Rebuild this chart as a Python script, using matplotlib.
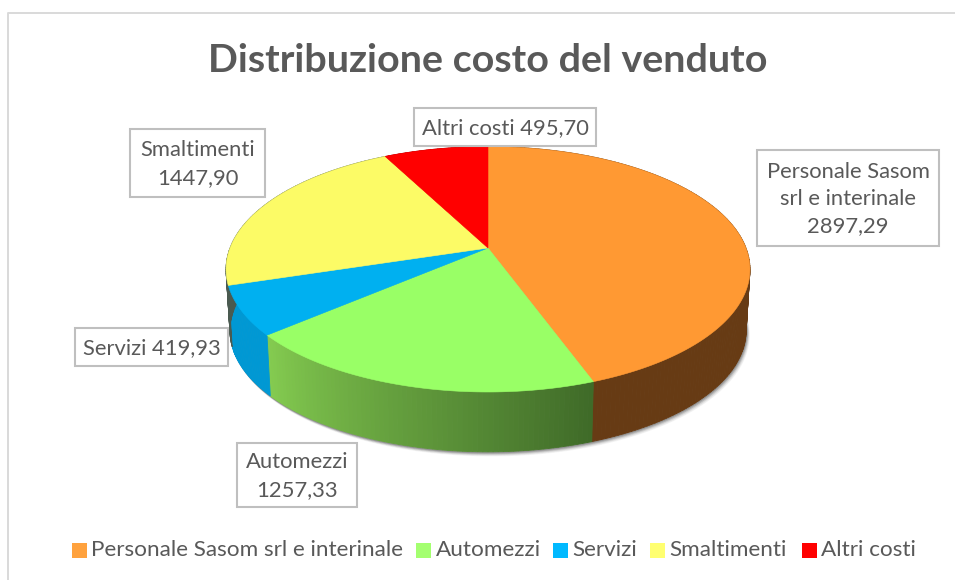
import numpy as np
import matplotlib
matplotlib.use("Agg")
import matplotlib.pyplot as plt
from matplotlib.patches import Polygon, Rectangle
from matplotlib.colors import to_rgb

# data
categories = ["Personale Sasom srl e interinale", "Automezzi", "Servizi", "Smaltimenti", "Altri costi"]
label_names = ["Personale Sasom\nsrl e interinale", "Automezzi", "Servizi", "Smaltimenti", "Altri costi"]
values = [2897.29, 1257.33, 419.93, 1447.90, 495.70]

top_colors = ["#FF9933", "#99FF66", "#00B0F0", "#FCFB66", "#FF0000"]
legend_colors = ["#FFA23E", "#A4FF70", "#00B9FF", "#FFFF70", "#FF0000"]
# side wall colour at start and end of each slice (clockwise)
wall_start = ["#673B14", "#3F6A28", "#0098D4", "#4A5A50", "#A00000"]
wall_end = ["#673B14", "#84CC50", "#0098D4", "#4A5A50", "#A00000"]

# label boxes: left, top, right, bottom in pixels, line break after the name or not
boxes = [(757, 150, 939, 246), (237, 443, 357, 507), (75, 328, 228, 366), (130, 129, 265, 197), (414, 108, 596, 146)]
name_sep = ["\n", "\n", " ", "\n", " "]
legend_swatch_x = [72, 416, 553, 650, 802]
legend_text_x = [91, 436, 572, 669, 821]

plt.rcParams["font.family"] = ["Lato", "DejaVu Sans"]
TXT = "#595959"

fig = plt.figure(figsize=(9.55, 5.8), dpi=100)
ax = fig.add_axes([0, 0, 1, 1])
ax.set_xlim(0, 955)
ax.set_ylim(580, 0)
ax.axis("off")

# chart frame
ax.plot([8, 8, 955], [580, 13, 13], color="#D9D9D9", lw=1.4, solid_capstyle="butt")

# pie geometry: circle in perspective
APEX_X, APEX_Y = 488, 248
RX, RY, K = 258, 119, 0.1736
DEPTH = 62


def project(theta, scale=1.0, dy=0.0):
    # theta clockwise from 12 o'clock, radians
    x, y = np.sin(theta), np.cos(theta)
    w = 1 + K * y
    return APEX_X + scale * RX * x / w, APEX_Y - scale * RY * y / w + dy


def arc(theta0, theta1, **kw):
    n = max(int(abs(theta1 - theta0) * 80), 2)
    t = np.linspace(theta0, theta1, n)
    return np.column_stack(project(t, **kw))


fractions = np.array(values) / sum(values)
edges = np.concatenate([[0], np.cumsum(fractions)]) * 2 * np.pi

# soft shadow under the wall
low = arc(0, 2 * np.pi, scale=0.985, dy=DEPTH)
for off, a in [(4, 0.05), (3, 0.10), (2, 0.18), (1, 0.25)]:
    ax.add_patch(Polygon(low + [off * 0.8, off], closed=True, fc="#404040", ec="#404040", alpha=a, lw=0.8, zorder=1))

# side walls
for i in range(len(values)):
    c0, c1 = np.array(to_rgb(wall_start[i])), np.array(to_rgb(wall_end[i]))
    ts = np.linspace(edges[i], edges[i + 1], int((edges[i + 1] - edges[i]) * 60) + 2)
    for j in range(len(ts) - 1):
        up = arc(ts[j], ts[j + 1])
        dn = arc(ts[j + 1], ts[j], scale=0.985, dy=DEPTH)
        col = c0 + (c1 - c0) * (j + 0.5) / (len(ts) - 1)
        ax.add_patch(Polygon(np.vstack([up, dn]), closed=True, fc=col, ec=col, lw=0.6, zorder=2))

# top face
for i in range(len(values)):
    pts = np.vstack([[APEX_X, APEX_Y], arc(edges[i], edges[i + 1])])
    ax.add_patch(Polygon(pts, closed=True, fc=top_colors[i], ec=top_colors[i], lw=0.4, zorder=3))

# data labels
for i in range(len(values)):
    l, t, r, b = boxes[i]
    ax.add_patch(Rectangle((l, t), r - l, b - t, fc="white", ec="#BFBFBF", lw=1.5, zorder=4))
    txt = label_names[i] + name_sep[i] + f"{values[i]:.2f}".replace(".", ",")
    ax.text((l + r) / 2, (t + b) / 2 + 1, txt, ha="center", va="center", fontsize=15.8, color=TXT,
            linespacing=1.45, zorder=5)

# title
ax.text(488, 61, "Distribuzione costo del venduto", ha="center", va="center", fontsize=28.4,
        fontweight="bold", color=TXT)

# legend
for i in range(len(categories)):
    ax.add_patch(Rectangle((legend_swatch_x[i], 543), 15, 15, fc=legend_colors[i], ec="none"))
    ax.text(legend_text_x[i], 550, categories[i], ha="left", va="center", fontsize=16.2, color=TXT)

fig.savefig("out.png", dpi=100, facecolor="white")
